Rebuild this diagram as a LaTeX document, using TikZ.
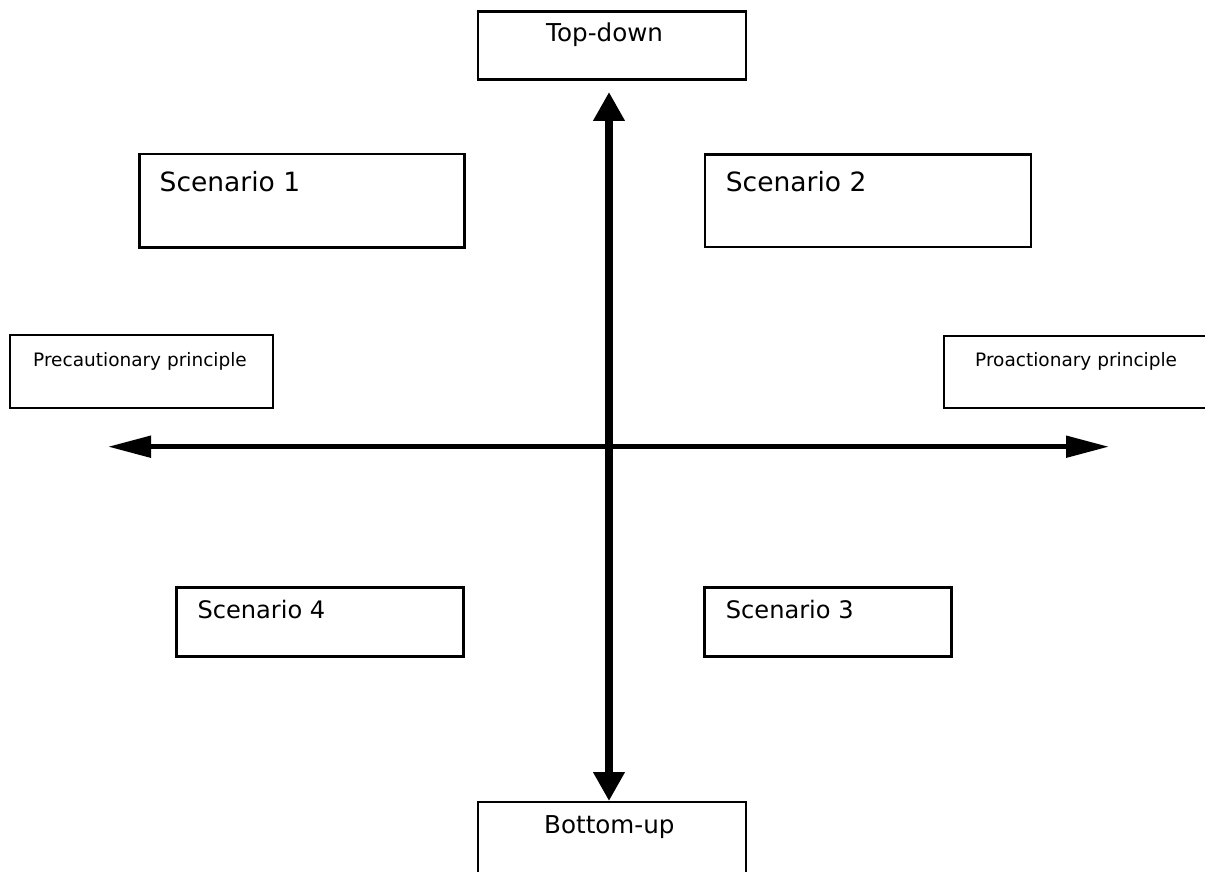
\documentclass[tikz,border=0pt]{standalone}
\usepackage{fontspec}
\setmainfont{DejaVu Sans}
\usetikzlibrary{arrows.meta}
\begin{document}
\begin{tikzpicture}[x=1pt,y=-1pt,
  box/.style={draw, line width=2.6pt, inner sep=0pt},
  lbl/.style={anchor=base west, inner sep=0pt},
  big/.style={font=\fontsize{26.5}{32}\selectfont},
  mid/.style={font=\fontsize{24.1}{30}\selectfont},
  axt/.style={font=\fontsize{24.6}{28}\selectfont},
  sml/.style={font=\fontsize{18.5}{22}\selectfont},
  haxis/.style={line width=5pt, {Triangle[length=43pt,width=21pt]}-{Triangle[length=43pt,width=21pt]}},
  vaxis/.style={line width=8pt, {Triangle[length=29pt,width=30pt]}-{Triangle[length=29pt,width=30pt]}}]
\useasboundingbox (0,0) rectangle (1205,872);
\clip (0,0) rectangle (1205,872);
\fill[white] (0,0) rectangle (1205,872);

% boxes
\node[box, minimum width=268pt, minimum height=68pt] (top) at (612,45.8) {};
\node[box, minimum width=268pt, minimum height=78pt] (bot) at (612,841) {};
\node[box, minimum width=325pt, minimum height=93pt] (s1) at (301.8,200.7) {};
\node[box, minimum width=326pt, minimum height=92pt] (s2) at (868,200.8) {};
\node[box, minimum width=263pt, minimum height=73pt] (prec) at (141.5,371.5) {};
\node[box, minimum width=268pt, minimum height=72pt] (proa) at (1078,372) {};
\node[box, minimum width=287pt, minimum height=69pt] (s4) at (319.7,621.7) {};
\node[box, minimum width=247pt, minimum height=69pt] (s3) at (827.7,621.7) {};

% labels
\node[lbl, axt] (ttop) at (546,41.7) {Top-down};
\node[lbl, axt] (tbot) at (544,833) {Bottom-up};
\node[lbl, big] (ts1) at (159.5,191.7) {Scenario 1};
\node[lbl, big] (ts2) at (725.7,191.7) {Scenario 2};
\node[lbl, sml] (tprec) at (33,366.7) {Precautionary principle};
\node[lbl, sml] (tproa) at (975,366.7) {Proactionary principle};
\node[lbl, mid] (ts4) at (197.3,618) {Scenario 4};
\node[lbl, mid] (ts3) at (725.7,618) {Scenario 3};

% axes
\coordinate (hl) at (108,446.7);
\coordinate (hr) at (1109,446.7);
\coordinate (vt) at (609,92);
\coordinate (vb) at (609,801);
\draw[haxis] (hl) -- (hr);
\draw[vaxis] (vt) -- (vb);
\end{tikzpicture}
\end{document}
